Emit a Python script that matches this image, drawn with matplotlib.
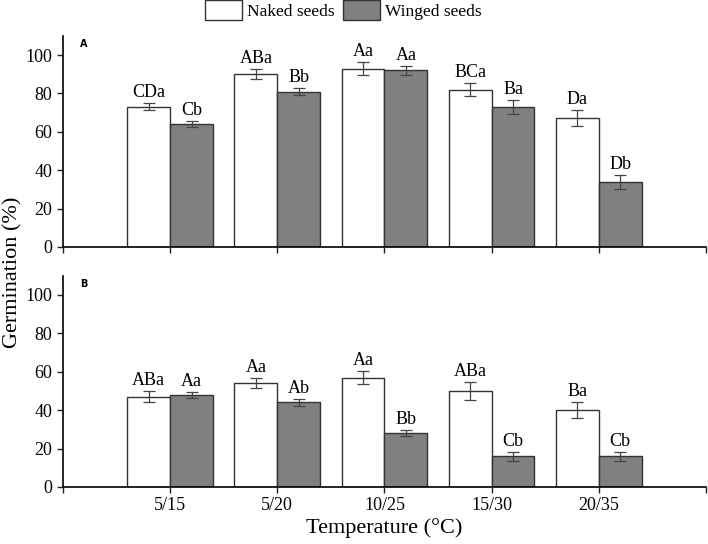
import numpy as np
import matplotlib.pyplot as plt
from matplotlib.patches import Patch

plt.rcParams['font.family'] = ['Liberation Serif', 'DejaVu Serif']

# ── Data ──────────────────────────────────────────────────────────────────────
temps = ["5/15", "5/20", "10/25", "15/30", "20/35"]

naked_a = [73, 90, 93, 82, 67]
naked_a_err = [1.8, 2.7, 3.4, 3.5, 4.2]
winged_a = [64, 81, 92, 73, 34]
winged_a_err = [1.6, 1.8, 2.4, 3.5, 3.6]
naked_a_lbl = ["CDa", "ABa", "Aa", "BCa", "Da"]
winged_a_lbl = ["Cb", "Bb", "Aa", "Ba", "Db"]

naked_b = [47, 54, 57, 50, 40]
naked_b_err = [2.9, 2.7, 3.5, 4.8, 4.3]
winged_b = [48, 44, 28, 16, 16]
winged_b_err = [1.6, 1.7, 1.6, 2.3, 2.3]
naked_b_lbl = ["ABa", "Aa", "Aa", "ABa", "Ba"]
winged_b_lbl = ["Aa", "Ab", "Bb", "Cb", "Cb"]

WIDTH = 0.4
GREY = "#808080"
EDGE = "#333333"

fig = plt.figure(figsize=(7.08, 5.44), dpi=100)
ax_a = fig.add_axes([0.089, 0.546, 0.908, 0.388])
ax_b = fig.add_axes([0.089, 0.105, 0.908, 0.388])


def draw_panel(ax, naked, naked_err, winged, winged_err, nlbl, wlbl, tag, show_x):
    x = np.arange(1, len(temps) + 1)
    err_kw = dict(ecolor="#444444", elinewidth=0.9, capsize=4, capthick=0.9)
    ax.bar(x - WIDTH / 2, naked, WIDTH, yerr=naked_err, color="white",
           edgecolor=EDGE, linewidth=1.0, error_kw=err_kw, zorder=2)
    ax.bar(x + WIDTH / 2, winged, WIDTH, yerr=winged_err, color=GREY,
           edgecolor=EDGE, linewidth=1.0, error_kw=err_kw, zorder=2)
    for xi, v, e, s in zip(x - WIDTH / 2, naked, naked_err, nlbl):
        ax.annotate(s, (xi, v + e), xytext=(0, 1.5), textcoords="offset points",
                    ha="center", va="bottom", fontsize=13)
    for xi, v, e, s in zip(x + WIDTH / 2, winged, winged_err, wlbl):
        ax.annotate(s, (xi, v + e), xytext=(0, 1.5), textcoords="offset points",
                    ha="center", va="bottom", fontsize=13)

    ax.set_xlim(0, 6)
    ax.set_ylim(0, 110)
    ax.set_yticks([0, 20, 40, 60, 80, 100])
    ax.set_xticks(np.arange(0, 7))
    if show_x:
        ax.set_xticklabels([""] + temps + [""])
    else:
        ax.set_xticklabels([])
    ax.tick_params(axis="both", labelsize=13, width=1.0, length=4, color="#222222")
    ax.tick_params(axis="x", direction="out")
    ax.spines[["top", "right"]].set_visible(False)
    ax.spines["left"].set_linewidth(1.2)
    ax.spines["bottom"].set_linewidth(1.2)
    ax.text(0.027, 0.985, tag, transform=ax.transAxes, family="DejaVu Sans",
            fontweight="bold", fontsize=7, va="top", ha="left")


draw_panel(ax_a, naked_a, naked_a_err, winged_a, winged_a_err,
           naked_a_lbl, winged_a_lbl, "A", False)
draw_panel(ax_b, naked_b, naked_b_err, winged_b, winged_b_err,
           naked_b_lbl, winged_b_lbl, "B", True)

fig.text(0.018, 0.5, "Germination (%)", rotation=90, ha="center", va="center",
         fontsize=16)
fig.text(0.543, 0.03, "Temperature (\u00b0C)", ha="center", va="center",
         fontsize=16)

handles = [Patch(facecolor="white", edgecolor=EDGE, label="Naked seeds"),
           Patch(facecolor=GREY, edgecolor=EDGE, label="Winged seeds")]
fig.legend(handles=handles, loc="upper center", bbox_to_anchor=(0.485, 1.028),
           ncol=2, frameon=False, fontsize=12.5, handlelength=2.1,
           handleheight=1.4, handletextpad=0.3, columnspacing=0.5)

fig.savefig("out.png", dpi=100)
